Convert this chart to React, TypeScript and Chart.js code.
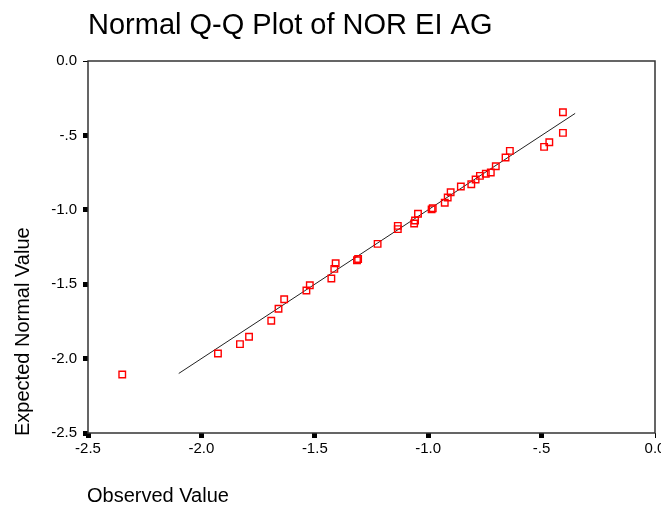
import React, { useEffect, useRef } from "react";
import { Chart, registerables } from "chart.js";

Chart.register(...registerables);

const observedValues = [
  -2.349, -1.927, -1.83, -1.79, -1.692, -1.66, -1.635, -1.537, -1.522, -1.427,
  -1.414, -1.408, -1.314, -1.309, -1.223, -1.134, -1.134, -1.062, -1.058, -1.045,
  -0.985, -0.98, -0.927, -0.914, -0.901, -0.856, -0.81, -0.791, -0.772, -0.746,
  -0.724, -0.702, -0.659, -0.64, -0.489, -0.466, -0.406, -0.406,
];
const expectedValues = [
  -2.107, -1.966, -1.903, -1.853, -1.746, -1.665, -1.601, -1.542, -1.507, -1.462,
  -1.397, -1.359, -1.339, -1.331, -1.229, -1.13, -1.108, -1.092, -1.072, -1.027,
  -0.997, -0.99, -0.953, -0.917, -0.882, -0.843, -0.828, -0.796, -0.772, -0.758,
  -0.749, -0.707, -0.649, -0.604, -0.577, -0.546, -0.483, -0.344,
];
const refLineX = [-2.1, -0.352];
const refLineY = [-2.1, -0.352];

const tickValues = [-2.5, -2.0, -1.5, -1.0, -0.5, 0.0];
const tickLabels = ["-2.5", "-2.0", "-1.5", "-1.0", "-.5", "0.0"];

const titleText = "Normal Q-Q Plot of NOR EI AG";
const xTitle = "Observed Value";
const yTitle = "Expected Normal Value";

const FONT = "'Liberation Sans', Arial, sans-serif";

function labelFor(v: number): string {
  const i = tickValues.findIndex((t) => Math.abs(t - v) < 1e-6);
  return i >= 0 ? tickLabels[i] : "";
}

const textPlugin = {
  id: "textPlugin",
  beforeDatasetsDraw(chart: any) {
    const { ctx, chartArea } = chart;
    ctx.save();
    ctx.strokeStyle = "#333";
    ctx.lineWidth = 1.5;
    ctx.strokeRect(chartArea.left, chartArea.top, chartArea.right - chartArea.left, chartArea.bottom - chartArea.top);
    ctx.restore();
  },
  afterDraw(chart: any) {
    const { ctx } = chart;
    ctx.save();
    ctx.fillStyle = "#000";
    ctx.font = `29px ${FONT}`;
    ctx.textBaseline = "middle";
    ctx.textAlign = "left";
    ctx.fillText(titleText, 88, 26);

    ctx.font = `20px ${FONT}`;
    ctx.fillText(xTitle, 87, 496);

    ctx.translate(23, 436);
    ctx.rotate(-Math.PI / 2);
    ctx.textAlign = "left";
    ctx.fillText(yTitle, 0, 0);
    ctx.restore();
  },
};

export default function App() {
  const ref = useRef<HTMLCanvasElement | null>(null);

  useEffect(() => {
    document.body.style.margin = "0";
    const canvas = ref.current;
    if (!canvas) return;

    const points = observedValues.map((x, i) => ({ x, y: expectedValues[i] }));
    const line = refLineX.map((x, i) => ({ x, y: refLineY[i] }));

    const zeroPad = (s: any) => {
      s.paddingLeft = 0;
      s.paddingRight = 0;
      s.paddingTop = 0;
      s.paddingBottom = 0;
    };

    const chart = new Chart(canvas, {
      type: "scatter",
      data: {
        datasets: [
          {
            type: "line",
            data: line,
            showLine: true,
            borderColor: "#222",
            borderWidth: 1,
            pointRadius: 0,
            fill: false,
            order: 2,
          } as any,
          {
            data: points,
            pointStyle: "rect",
            pointRadius: 4.6,
            pointBorderWidth: 1.4,
            pointBorderColor: "#ff0000",
            pointBackgroundColor: "rgba(0,0,0,0)",
            order: 1,
          } as any,
        ],
      },
      options: {
        responsive: false,
        animation: false,
        layout: { padding: { top: 61, right: 3, left: 0, bottom: 0 } },
        plugins: {
          legend: { display: false },
          tooltip: { enabled: false },
          title: { display: false },
        },
        scales: {
          x: {
            type: "linear",
            min: -2.5,
            max: 0,
            afterBuildTicks: (s: any) => {
              s.ticks = tickValues.map((v) => ({ value: v }));
            },
            afterFit: (s: any) => {
              s.height = 73;
              zeroPad(s);
            },
            border: { display: false },
            grid: {
              drawOnChartArea: false,
              drawTicks: true,
              tickLength: 5,
              tickWidth: (c: any) => (c.tick && c.tick.value === 0 ? 1 : 5),
              tickColor: "#000",
            },
            ticks: {
              autoSkip: false,
              maxRotation: 0,
              padding: 2,
              color: "#000",
              font: { family: FONT, size: 15 },
              callback: (v: any) => labelFor(Number(v)),
            },
          },
          y: {
            type: "linear",
            min: -2.5,
            max: 0,
            afterBuildTicks: (s: any) => {
              s.ticks = tickValues.map((v) => ({ value: v }));
            },
            afterFit: (s: any) => {
              s.width = 88;
              zeroPad(s);
            },
            border: { display: false },
            grid: {
              drawOnChartArea: false,
              drawTicks: true,
              tickLength: 5,
              tickWidth: (c: any) => (c.tick && c.tick.value === 0 ? 1 : 5),
              tickColor: "#000",
            },
            ticks: {
              autoSkip: false,
              padding: 6,
              color: "#000",
              font: { family: FONT, size: 15 },
              callback: (v: any) => labelFor(Number(v)),
            },
          },
        },
      },
      plugins: [textPlugin],
    });

    return () => chart.destroy();
  }, []);

  return (
    <div style={{ position: "fixed", left: 0, top: 0, width: 661, height: 506, background: "#fff" }}>
      <canvas ref={ref} width={661} height={506} style={{ width: 661, height: 506, display: "block" }} />
    </div>
  );
}
